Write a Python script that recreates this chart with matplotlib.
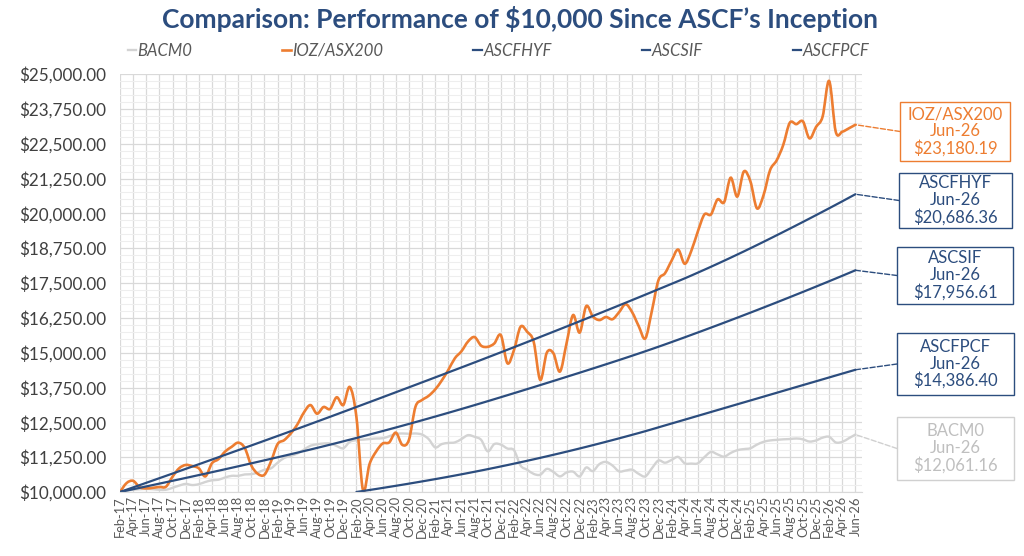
import numpy as np
import pandas as pd
import matplotlib as mp
mp.use('Agg')
import matplotlib.pyplot as plt
from matplotlib.ticker import MultipleLocator, FuncFormatter
from matplotlib.patches import Rectangle, PathPatch
from matplotlib.path import Path
from matplotlib.lines import Line2D

plt.rcParams['font.family'] = ['Lato', 'DejaVu Sans']

# monthly axis Feb-17 .. Jun-26
months = pd.date_range('2017-02-01', '2026-06-01', freq='MS')
month_labels = [d.strftime('%b-%y') for d in months]

# IOZ/ASX200, monthly
ioz = [10000, 10320, 10400, 10170, 10130, 10150, 10180, 10190, 10550, 10850,
       10970, 10930, 10850, 10560, 11030, 11180, 11450, 11620, 11770, 11580,
       10950, 10650, 10620, 11100, 11720, 11860, 12100, 12420, 12850, 13120,
       12810, 13050, 12980, 13400, 13120, 13770, 12700, 10070, 11000, 11450,
       11740, 11780, 12130, 11690, 11870, 13060, 13300, 13450, 13680, 14000,
       14380, 14800, 15050, 15400, 15560, 15250, 15210, 15330, 15630, 14620,
       15095, 15930, 15750, 15390, 14020, 15000, 14980, 14320, 15330, 16350,
       15720, 16670, 16300, 16170, 16280, 16200, 16450, 16740, 16450, 15950,
       15510, 16500, 17600, 17850, 18300, 18700, 18190, 18650, 19350, 19960,
       19960, 20500, 20400, 21280, 20600, 21500, 21150, 20180, 20650, 21550,
       21900, 22450, 23250, 23200, 23300, 22690, 23100, 23470, 24750, 22930,
       22930, 23050, 23180.19]

# BACM0, monthly
bacm0 = [10000, 10050, 10080, 10100, 10110, 10100, 10080, 10080, 10150, 10230,
         10290, 10250, 10280, 10360, 10420, 10440, 10520, 10580, 10580, 10630,
         10640, 10700, 10800, 10850, 11050, 11220, 11300, 11380, 11520, 11660,
         11710, 11740, 11740, 11650, 11570, 11800, 11860, 11880, 11900, 11920,
         11930, 12000, 12080, 12100, 12090, 12100, 12060, 11900, 11600, 11720,
         11760, 11780, 11900, 12040, 11980, 11870, 11460, 11720, 11700, 11560,
         11500, 10950, 10800, 10650, 10620, 10830, 10720, 10560, 10700, 10730,
         10560, 10880, 10750, 11000, 11080, 10950, 10740, 10770, 10800, 10650,
         10560, 10850, 11130, 11050, 11150, 11260, 11030, 11020, 11030, 11250,
         11440, 11350, 11270, 11400, 11500, 11540, 11570, 11700, 11800, 11850,
         11870, 11890, 11900, 11920, 11890, 11810, 11850, 11950, 11980, 11780,
         11800, 11930, 12061.16]

# fund lines, every second month
hyf = [10000, 10165, 10330, 10496, 10662, 10829, 10996, 11164, 11332, 11501,
       11670, 11840, 12010, 12181, 12353, 12526, 12700, 12875, 13050, 13226,
       13402, 13579, 13756, 13934, 14112, 14291, 14470, 14650, 14831, 15013,
       15196, 15380, 15565, 15751, 15938, 16126, 16315, 16505, 16696, 16888,
       17081, 17275, 17470, 17666, 17872, 18083, 18299, 18520, 18746, 18977,
       19212, 19450, 19691, 19935, 20182, 20432, 20686.36]
sif = [10000, 10100, 10200, 10301, 10402, 10504, 10607, 10711, 10816, 10922,
       11029, 11137, 11246, 11356, 11468, 11582, 11699, 11818, 11939, 12062,
       12187, 12314, 12443, 12574, 12707, 12842, 12979, 13118, 13259, 13402,
       13546, 13691, 13837, 13984, 14132, 14281, 14431, 14582, 14735, 14891,
       15050, 15213, 15380, 15551, 15724, 15899, 16076, 16255, 16436, 16619,
       16804, 16991, 17180, 17371, 17564, 17759, 17956.61]
# ASCFPCF starts Feb-20
pcf = [10000, 10072, 10146, 10222, 10300, 10380, 10462, 10547, 10635, 10726,
       10820, 10917, 11017, 11120, 11226, 11335, 11447, 11562, 11680, 11801,
       11925, 12052, 12182, 12320, 12458, 12595, 12733, 12871, 13009, 13147,
       13284, 13422, 13560, 13698, 13836, 13973, 14111, 14249, 14386.40]

orange = '#ED7D31'
navy = '#2C4D7E'
grey = '#D3D3D3'


def smooth_path(xs, ys):
    # bezier through the points, like a spreadsheet "smoothed line"
    p = np.column_stack([xs, ys]).astype(float)
    n = len(p)
    verts = [p[0]]
    codes = [Path.MOVETO]
    for i in range(n - 1):
        p0 = p[i - 1] if i > 0 else p[i]
        p1, p2 = p[i], p[i + 1]
        p3 = p[i + 2] if i + 2 < n else p[i + 1]
        verts += [p1 + (p2 - p0) / 6, p2 - (p3 - p1) / 6, p2]
        codes += [Path.CURVE4] * 3
    return Path(verts, codes)


fig = plt.figure(figsize=(10.24, 5.56), dpi=100)
ax = fig.add_axes([120 / 1024, 1 - 492 / 556, 742 / 1024, 418 / 556])

x_m = np.arange(len(months))
x_2m = x_m[::2]
x_pcf = x_2m[len(x_2m) - len(pcf):]

series = [
    ('BACM0', x_m, bacm0, grey, 1.7),
    ('IOZ/ASX200', x_m, ioz, orange, 1.9),
    ('ASCFHYF', x_2m, hyf, navy, 1.6),
    ('ASCSIF', x_2m, sif, navy, 1.6),
    ('ASCFPCF', x_pcf, pcf, navy, 1.6),
]
handles = []
for name, xs, ys, c, lw in series:
    ax.add_patch(PathPatch(smooth_path(xs, ys), fill=False, ec=c, lw=lw,
                           capstyle='round', joinstyle='round'))
    handles.append(Line2D([], [], color=c, lw=lw, label=name))

ax.set_xlim(0, 113)
ax.set_ylim(10000, 25000)
ax.yaxis.set_major_locator(MultipleLocator(1250))
ax.yaxis.set_minor_locator(MultipleLocator(250))
ax.yaxis.set_major_formatter(FuncFormatter(lambda v, p: '${:,.2f}'.format(v)))
ax.set_xticks(x_2m)
ax.set_xticklabels(month_labels[::2], rotation=90, fontsize=9.3, color='#595959')
ax.tick_params(axis='y', labelsize=12.3, labelcolor='#404040', length=0, pad=10)
ax.tick_params(axis='x', length=0, pad=3)
ax.tick_params(which='minor', length=0)
ax.grid(which='major', color='#D9D9D9', lw=0.9)
ax.grid(which='minor', axis='y', color='#EEEEEE', lw=0.8)
ax.set_axisbelow(True)
for s in ['top', 'right', 'left']:
    ax.spines[s].set_visible(False)
ax.spines['bottom'].set_color('#D9D9D9')

fig.text(0.508, 1 - 19 / 556, "Comparison: Performance of $10,000 Since ASCF\u2019s Inception",
         ha='center', va='center', fontsize=19, fontweight='bold', color=navy)

leg = ax.legend(handles=handles, loc='center', bbox_to_anchor=(0.51, 1 + 23 / 418), ncol=5,
                frameon=False, handlelength=0.5, handletextpad=0.1, columnspacing=5.4,
                prop={'style': 'italic', 'size': 12})
for t in leg.get_texts():
    t.set_color('#595959')

# end-value call-outs (box left, top, right, bottom in pixels)
callouts = [
    ('IOZ/ASX200', ioz[-1], orange, orange, (900, 102, 1010, 161)),
    ('ASCFHYF', hyf[-1], navy, navy, (899, 173, 1012, 228)),
    ('ASCSIF', sif[-1], navy, navy, (897, 247, 1013, 304)),
    ('ASCFPCF', pcf[-1], navy, navy, (897, 333, 1014, 395)),
    ('BACM0', bacm0[-1], '#BFBFBF', '#D0D0D0', (897, 417, 1014, 480)),
]
for name, v, tc, ec, (l, t, r, b) in callouts:
    fig.patches.append(Rectangle((l / 1024, 1 - b / 556), (r - l) / 1024, (b - t) / 556,
                                 transform=fig.transFigure, fill=False, ec=ec, lw=1.0))
    fig.text((l + r) / 2 / 1024, 1 - (t + b) / 2 / 556,
             '{}\n{}\n${:,.2f}'.format(name, month_labels[-1], v),
             ha='center', va='center', fontsize=12, color=tc, linespacing=1.05)
    ax.annotate('', xy=(x_m[-1], v), xycoords='data',
                xytext=(l, 556 - (t + b) / 2), textcoords='figure pixels',
                arrowprops=dict(arrowstyle='-', linestyle='--', color=ec, lw=1.0,
                                shrinkA=0, shrinkB=0), annotation_clip=False)

fig.savefig('out.png', dpi=100)
